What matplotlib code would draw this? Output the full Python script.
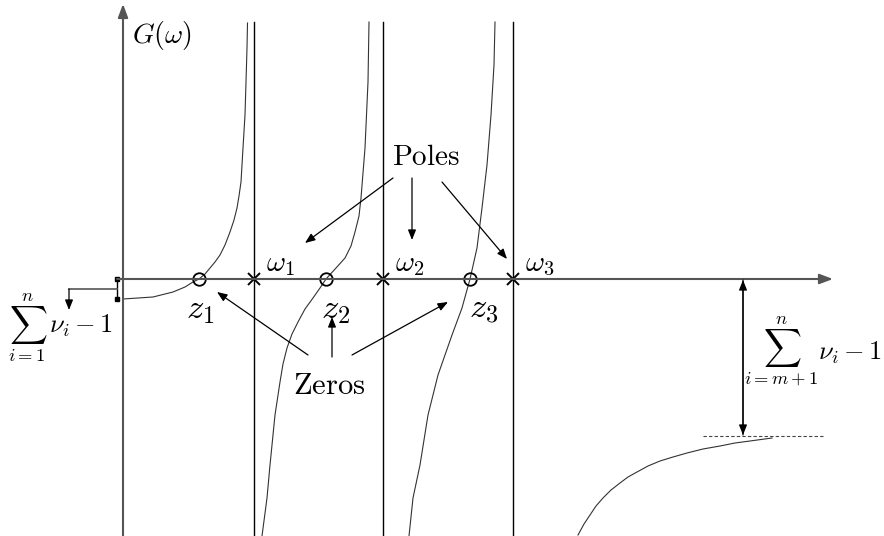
import matplotlib
matplotlib.use("Agg")
import matplotlib.pyplot as plt

plt.rcParams["mathtext.fontset"] = "cm"

# poles / zeros on the frequency axis
poles = [131, 260, 390]
zeros = [76, 203, 347]
pole_labels = [r"$\omega_1$", r"$\omega_2$", r"$\omega_3$"]
zero_labels = [r"$z_1$", r"$z_2$", r"$z_3$"]

# G(omega) branches between the poles
branch1_w = [0, 30, 50, 62, 70, 76, 82, 87, 92, 97, 102, 107, 111, 114, 116, 118, 120, 122, 123, 124, 124.5]
branch1_g = [-20, -18, -13, -8, -3, 0, 5, 11, 17, 24, 34, 47, 59, 71, 83, 97, 131, 164, 197, 231, 256]
branch2_w = [139, 144, 147, 152, 157, 160, 164, 169, 175, 182, 190, 197, 203, 213, 222, 228, 232, 236, 238, 242, 245, 246]
branch2_g = [-257, -219, -186, -136, -103, -85, -69, -55, -43, -30, -19, -9, 0, 11, 21, 33, 47, 63, 81, 131, 197, 257]
branch3_w = [286, 290, 297, 305, 315, 322, 329, 339, 347, 354, 359, 364, 368, 371, 372]
branch3_g = [-257, -219, -186, -136, -96, -76, -56, -29, 0, 31, 71, 114, 164, 214, 257]
branch4_w = [455, 461, 467, 473, 480, 488, 497, 505, 514, 525, 537, 550, 564, 580, 597, 612, 627, 649]
branch4_g = [-256, -245, -236, -227, -219, -211, -204, -198, -193, -187, -182, -178, -174, -170, -167, -164, -162, -159]

g_inf = -157  # high-frequency asymptote
g_start = -20  # value at omega = 0

fig = plt.figure(figsize=(8.84, 5.36), dpi=100)
ax = fig.add_axes([0, 0, 1, 1])
ax.set_xlim(-123, 761)
ax.set_ylim(-257, 279)
ax.axis("off")

axis_col = "#555555"
arr = dict(arrowstyle="-|>,head_length=0.6,head_width=0.24", lw=0.9,
           color="black", shrinkA=0, shrinkB=0)
big = dict(arrowstyle="-|>,head_length=0.8,head_width=0.3", lw=1.5,
           color=axis_col, shrinkA=0, shrinkB=0)

# coordinate axes
ax.annotate("", xy=(710, 0), xytext=(-6, 0), arrowprops=big)
ax.annotate("", xy=(0, 275), xytext=(0, -257), arrowprops=big)
ax.text(9, 244, r"$G(\omega)$", fontsize=20, ha="left", va="center")

# asymptotes at the poles
for p in poles:
    ax.plot([p, p], [-257, 257], color="black", lw=1.0)

for w, g in [(branch1_w, branch1_g), (branch2_w, branch2_g),
             (branch3_w, branch3_g), (branch4_w, branch4_g)]:
    ax.plot(w, g, color="#333333", lw=0.8)

ax.plot(poles, [0] * len(poles), "x", color="black", ms=9, mew=1.4)
ax.plot(zeros, [0] * len(zeros), "o", mfc="none", mec="black", ms=9, mew=1.3)

for p, lab in zip(poles, pole_labels):
    ax.text(p + 12, 15, lab, fontsize=21, ha="left", va="center")
for z, lab, dx in zip(zeros, zero_labels, [1, 10, 14]):
    ax.text(z + dx, -30, lab, fontsize=25, ha="center", va="center")

# Poles annotation
ax.text(303, 122, r"$\mathrm{Poles}$", fontsize=21, ha="center", va="center")
ax.annotate("", xy=(182, 36), xytext=(270, 101), arrowprops=arr)
ax.annotate("", xy=(289, 39), xytext=(289, 101), arrowprops=arr)
ax.annotate("", xy=(384, 20), xytext=(319, 97), arrowprops=arr)

# Zeros annotation
ax.text(206, -107, r"$\mathrm{Zeros}$", fontsize=22, ha="center", va="center")
ax.annotate("", xy=(94, -13), xytext=(185, -76), arrowprops=arr)
ax.annotate("", xy=(209, -38), xytext=(209, -78), arrowprops=arr)
ax.annotate("", xy=(325, -23), xytext=(229, -76), arrowprops=arr)

# low-frequency offset bracket
ax.plot([-6, -6], [0, g_start], color="black", lw=1.0)
ax.plot([-6, -6], [0, g_start], "s", color="black", ms=3.5)
ax.plot([-6, -54], [g_start / 2, g_start / 2], color=axis_col, lw=1.2)
ax.annotate("", xy=(-54, -31), xytext=(-54, g_start / 2), arrowprops=arr)
ax.text(-95, -49, r"$\sum_{i=1}^{n}$", fontsize=19, ha="center", va="center")
ax.text(-74, -47, r"$\nu_i - 1$", fontsize=19, ha="left", va="center")

# high-frequency asymptote
ax.plot([580, 702], [g_inf, g_inf], color="#444444", lw=0.8, ls=(0, (3, 2)))
ax.annotate("", xy=(620, -1), xytext=(620, g_inf + 1), arrowprops=arr)
ax.annotate("", xy=(620, g_inf + 1), xytext=(620, -1), arrowprops=arr)
ax.text(658, -72, r"$\sum_{i=m+1}^{n}$", fontsize=19, ha="center", va="center")
ax.text(695, -74, r"$\nu_i - 1$", fontsize=19, ha="left", va="center")

fig.savefig("out.png", dpi=100)
